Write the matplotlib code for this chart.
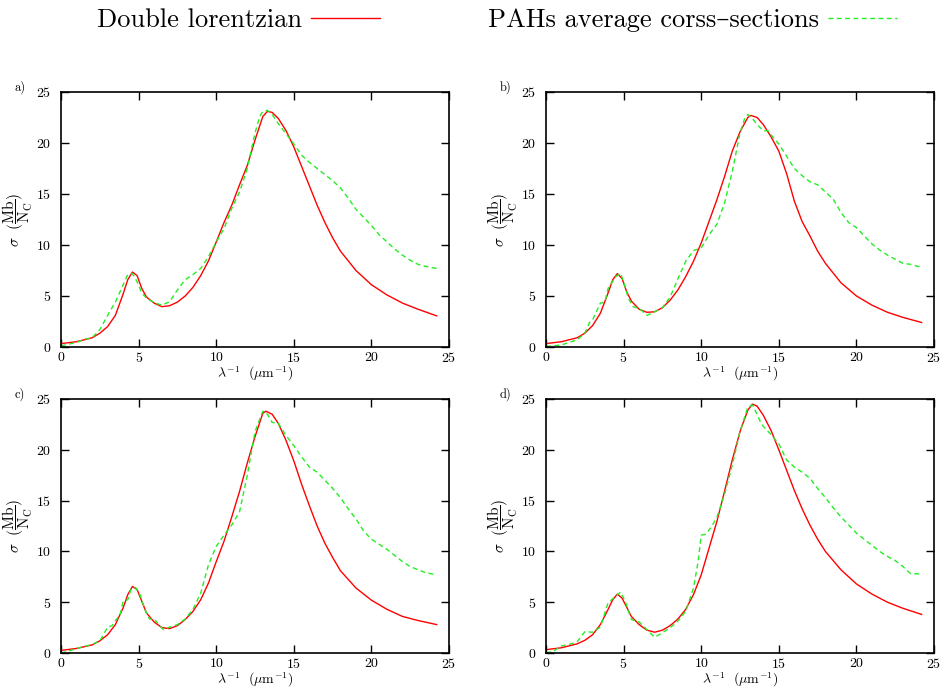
import numpy as np
import matplotlib
matplotlib.use("Agg")
import matplotlib.pyplot as plt
from matplotlib.lines import Line2D

plt.rcParams['font.family'] = ['cmr10', 'DejaVu Serif']
plt.rcParams['mathtext.fontset'] = 'cm'
plt.rcParams['axes.formatter.use_mathtext'] = True

# ---------------- data ----------------
# a)
xr_a = [0, 1, 2, 2.5, 3, 3.5, 4, 4.3, 4.6, 4.9, 5.2, 5.5, 6, 6.5, 7, 7.5, 8, 8.5, 9, 9.5, 10, 10.5,
        11, 11.5, 12, 12.5, 13, 13.3, 13.6, 14, 14.5, 15, 15.5, 16, 16.5, 17, 17.5, 18, 19, 20, 21, 22, 23, 24.2]
yr_a = [0.33, 0.52, 0.9, 1.35, 2.0, 3.1, 5.2, 6.6, 7.35, 7.0, 5.75, 4.9, 4.3, 3.95, 4.05, 4.4, 5.0, 5.85, 7.0, 8.45, 10.3, 12.2,
        13.9, 15.9, 17.8, 20.3, 22.6, 23.1, 23.0, 22.4, 21.2, 19.6, 17.7, 15.8, 13.9, 12.2, 10.7, 9.4, 7.5, 6.1, 5.1, 4.3, 3.7, 3.05]
xg_a = [0, 1, 1.5, 2, 2.5, 3, 3.5, 4, 4.3, 4.6, 4.9, 5.2, 5.5, 6, 6.5, 7, 7.5, 8, 8.5, 9, 9.5, 10, 10.5,
        11, 11.5, 12, 12.5, 12.8, 13, 13.3, 13.6, 14, 14.5, 15, 15.5, 16, 16.5, 17, 17.5, 18, 18.5, 19, 19.5,
        20, 20.5, 21, 21.5, 22, 22.5, 23, 23.5, 24.2]
yg_a = [0.1, 0.45, 0.75, 0.9, 1.7, 3.1, 4.4, 6.1, 7.1, 7.2, 6.4, 5.3, 4.8, 4.35, 4.1, 4.45, 5.6, 6.6, 7.1, 7.7, 8.85, 10.3, 11.6,
        13.6, 15.2, 17.5, 21.0, 22.6, 23.1, 23.2, 22.8, 21.9, 20.9, 19.9, 18.8, 18.1, 17.5, 16.9, 16.3, 15.6, 14.6, 13.5, 12.7,
        11.9, 11.0, 10.3, 9.6, 9.0, 8.5, 8.1, 7.9, 7.7]

# b)
xr_b = [0, 1, 2, 2.5, 3, 3.5, 4, 4.3, 4.6, 4.9, 5.2, 5.5, 6, 6.5, 7, 7.5, 8, 8.5, 9, 9.5, 10, 10.5,
        11, 11.5, 12, 12.5, 13, 13.2, 13.6, 14, 14.5, 15, 15.5, 16, 16.5, 17, 17.5, 18, 19, 20, 21, 22, 23, 24.2]
yr_b = [0.33, 0.52, 0.9, 1.35, 2.1, 3.3, 5.3, 6.6, 7.2, 6.7, 5.4, 4.5, 3.7, 3.4, 3.45, 3.85, 4.6, 5.6, 6.9, 8.4, 10.2, 12.3,
        14.4, 16.7, 19.2, 21.1, 22.5, 22.7, 22.5, 21.8, 20.6, 19.2, 17.0, 14.3, 12.3, 10.9, 9.4, 8.2, 6.3, 5.0, 4.1, 3.4, 2.9, 2.4]
xg_b = [0, 1, 1.5, 2, 2.5, 2.8, 3, 3.5, 3.8, 4, 4.5, 4.8, 5, 5.3, 5.6, 6, 6.5, 7, 7.5, 8, 8.5, 9, 9.5,
        10, 10.5, 11, 11.5, 12, 12.5, 12.8, 13, 13.3, 13.6, 14, 14.3, 14.6, 15, 15.5, 16, 16.5, 17, 17.5,
        18, 18.5, 19, 19.5, 20, 20.5, 21, 21.5, 22, 22.5, 23, 23.5, 24.2]
yg_b = [0.05, 0.2, 0.45, 0.7, 1.35, 2.4, 2.65, 4.3, 4.4, 5.75, 6.9, 7.2, 6.4, 4.8, 3.95, 3.8, 3.1, 3.45, 3.85, 4.9, 6.7, 8.4, 9.45,
        9.7, 11.0, 12.0, 14.1, 17.2, 21.0, 22.4, 22.8, 22.4, 21.8, 21.2, 21.2, 20.6, 19.9, 18.7, 17.5, 16.8, 16.2, 15.9,
        15.2, 14.5, 13.2, 12.2, 11.7, 10.9, 10.1, 9.5, 9.0, 8.6, 8.2, 8.1, 7.8]

# c)
xr_c = [0, 1, 2, 2.5, 3, 3.5, 4, 4.3, 4.6, 4.9, 5.2, 5.5, 6, 6.5, 7, 7.5, 8, 8.5, 9, 9.5, 10, 10.5,
        11, 11.5, 12, 12.5, 13, 13.2, 13.6, 14, 14.5, 15, 15.5, 16, 16.5, 17, 17.5, 18, 19, 20, 21, 22, 23, 24.2]
yr_c = [0.26, 0.45, 0.8, 1.2, 1.8, 2.8, 4.45, 5.75, 6.55, 6.25, 5.1, 3.95, 3.05, 2.5, 2.4, 2.7, 3.3, 4.1, 5.25, 6.9, 9.0, 11.0,
        13.4, 15.9, 18.7, 21.3, 23.6, 23.8, 23.5, 22.6, 20.9, 18.9, 16.6, 14.5, 12.5, 10.8, 9.4, 8.1, 6.4, 5.2, 4.3, 3.6, 3.2, 2.8]
xg_c = [0, 0.5, 1, 2, 2.5, 2.8, 3, 3.3, 3.5, 3.8, 4, 4.3, 4.5, 4.8, 5.1, 5.4, 5.7, 6, 6.3, 6.6, 7, 7.5, 8,
        8.5, 9, 9.5, 10, 10.5, 11, 11.5, 12, 12.5, 13, 13.3, 13.6, 14, 14.5, 15, 15.5, 16, 16.5, 17, 17.5,
        18, 18.5, 19, 19.5, 20, 20.5, 21, 21.5, 22, 22.5, 23, 23.5, 24.2]
yg_c = [0.0, 0.2, 0.45, 0.85, 1.2, 2.0, 2.55, 2.7, 3.2, 3.7, 5.1, 5.25, 6.25, 6.45, 5.7, 4.3, 3.35, 3.35, 2.8, 2.3, 2.55, 2.8, 3.35,
        4.3, 5.9, 8.7, 10.5, 11.6, 12.6, 13.9, 17.5, 21.8, 23.8, 23.5, 22.7, 22.6, 21.4, 20.4, 19.3, 18.3, 17.8, 17.0, 16.2,
        15.3, 14.2, 13.2, 12.0, 11.2, 10.7, 10.2, 9.6, 9.0, 8.5, 8.2, 7.9, 7.7]

# d)
xr_d = [0, 1, 2, 2.5, 3, 3.5, 4, 4.3, 4.6, 4.9, 5.2, 5.5, 6, 6.5, 7, 7.5, 8, 8.5, 9, 9.5, 10, 10.5,
        11, 11.5, 12, 12.5, 13, 13.3, 13.6, 14, 14.5, 15, 15.5, 16, 16.5, 17, 17.5, 18, 19, 20, 21, 22, 23, 24.2]
yr_d = [0.33, 0.52, 0.9, 1.25, 1.8, 2.8, 4.3, 5.25, 5.8, 5.4, 4.5, 3.6, 2.8, 2.25, 2.05, 2.25, 2.7, 3.35, 4.3, 5.75, 7.7, 10.3,
        12.9, 15.9, 19.0, 21.8, 23.9, 24.5, 24.3, 23.4, 21.9, 20.0, 18.0, 16.0, 14.2, 12.6, 11.2, 10.0, 8.2, 6.8, 5.8, 5.0, 4.4, 3.8]
xg_d = [0, 0.5, 1, 1.5, 2, 2.5, 3, 3.5, 4, 4.5, 4.8, 5.1, 5.5, 6, 6.5, 7, 7.5, 8, 8.5, 9, 9.5, 9.8, 10,
        10.3, 10.6, 11, 11.5, 12, 12.5, 13, 13.3, 13.6, 13.8, 14, 14.5, 15, 15.5, 16, 16.5, 17, 17.5,
        18, 18.5, 19, 19.5, 20, 20.5, 21, 21.5, 22, 22.5, 23, 23.5, 24.2]
yg_d = [0.0, 0.2, 0.7, 0.85, 1.1, 2.1, 2.05, 2.55, 4.95, 5.6, 6.0, 5.1, 3.3, 3.05, 2.3, 1.55, 2.0, 2.5, 3.15, 4.1, 6.4, 9.0, 11.6,
        11.7, 12.3, 13.3, 15.6, 18.5, 21.8, 24.2, 24.4, 23.5, 22.8, 22.3, 21.5, 20.6, 19.0, 18.3, 17.8, 17.2, 16.2,
        15.3, 14.3, 13.4, 12.6, 11.8, 11.2, 10.6, 10.0, 9.5, 9.1, 8.5, 7.8, 7.8]

panel_labels = ['a)', 'b)', 'c)', 'd)']
red_x = [xr_a, xr_b, xr_c, xr_d]
red_y = [yr_a, yr_b, yr_c, yr_d]
green_x = [xg_a, xg_b, xg_c, xg_d]
green_y = [yg_a, yg_b, yg_c, yg_d]
xticks = [0, 5, 10, 15, 20, 25]
yticks = [0, 5, 10, 15, 20, 25]

fig = plt.figure(figsize=(9.45, 6.89), dpi=100)

# axes boxes in figure fraction: left, bottom, width, height
boxes = [
    [0.0646, 0.4964, 0.4106, 0.3701],
    [0.5778, 0.4964, 0.4106, 0.3701],
    [0.0646, 0.0522, 0.4106, 0.3687],
    [0.5778, 0.0522, 0.4106, 0.3687],
]

red = '#ff0000'
green = '#22ee22'

for i in range(4):
    ax = fig.add_axes(boxes[i])
    ax.plot(red_x[i], red_y[i], color=red, lw=1.0, solid_joinstyle='round')
    ax.plot(green_x[i], green_y[i], color=green, lw=1.0, dashes=(3.5, 2.5))
    ax.set_xlim(0, 25)
    ax.set_ylim(0, 25)
    ax.set_xticks(xticks)
    ax.set_yticks(yticks)
    ax.tick_params(direction='in', top=True, right=True, length=6, width=1,
                   labelsize=10, pad=3)
    ax.tick_params(axis='y', pad=7)
    for s in ax.spines.values():
        s.set_linewidth(1.2)
    ax.set_xlabel(r'$\lambda^{-1}\ \ (\mu\mathrm{m}^{-1})$', fontsize=10, va='top')
    ax.xaxis.set_label_coords(0.5, -0.07)
    ax.set_ylabel(r'$\sigma\ \ (\dfrac{\mathrm{Mb}}{\mathrm{N_C}})$', fontsize=11, va='center')
    ax.yaxis.set_label_coords(-0.112, 0.5)
    b = boxes[i]
    fig.text(b[0] - 0.049, b[1] + b[3] - 0.003, panel_labels[i], fontsize=9,
             ha='left', va='bottom')

handles = [Line2D([], [], color=red, lw=1.0),
           Line2D([], [], color=green, lw=1.0, dashes=(3.5, 2.5))]
fig.legend(handles, ['Double lorentzian', 'PAHs average corss\u2013sections'],
           loc='upper center', bbox_to_anchor=(0.526, 1.022), ncol=2, frameon=False,
           markerfirst=False, prop={'family': ['cmr10', 'DejaVu Serif'], 'size': 19},
           columnspacing=4.1, handlelength=2.6, handletextpad=0.35)

fig.savefig('out.png', dpi=100)
